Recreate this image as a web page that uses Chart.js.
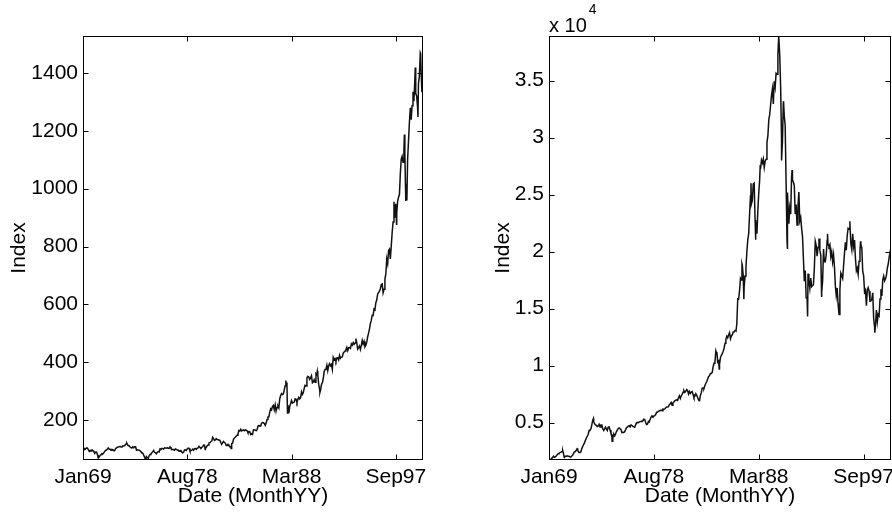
<!DOCTYPE html>
<html><head><meta charset="utf-8">
<script src="https://cdn.jsdelivr.net/npm/chart.js@4.4.1/dist/chart.umd.min.js"></script>
<style>
html,body{margin:0;padding:0;background:#fff;}
#wrap{position:relative;width:892px;height:512px;overflow:hidden;}
.box{position:absolute;top:0;width:446px;height:512px;}
</style></head><body>
<div id="wrap">
<div class="box" style="left:0"><canvas id="c1" width="446" height="512"></canvas></div>
<div class="box" style="left:446px"><canvas id="c2" width="446" height="512"></canvas></div>
</div>
<script>
// ---- axis tick data ----
const xTickDays = [0, 3500, 7000, 10500];
const xTickLabels = ['Jan69', 'Aug78', 'Mar88', 'Sep97'];
const spxTicks = [200, 400, 600, 800, 1000, 1200, 1400];
const spxTickLabels = ['200', '400', '600', '800', '1000', '1200', '1400'];
const nkTicks = [5000, 10000, 15000, 20000, 25000, 30000, 35000];
const nkTickLabels = ['0.5', '1', '1.5', '2', '2.5', '3', '3.5'];

// ---- monthly values: first entry = Dec 1968 close, then each month's close Jan 1969 .. Mar 2000 ----
const spxMonthly = [103.86,
103.01, 98.13, 101.51, 103.69, 103.46, 97.71, 91.83, 95.51, 93.12, 97.24, 93.81, 92.06,
85.02, 89.50, 89.63, 81.52, 76.55, 72.72, 78.05, 81.52, 84.21, 83.25, 87.20, 92.15,
95.88, 96.75, 100.31, 103.95, 99.63, 99.70, 95.58, 99.03, 98.34, 94.23, 93.99, 102.09,
103.94, 106.57, 107.20, 107.67, 109.53, 107.14, 107.39, 111.09, 110.55, 111.58, 116.67, 118.05,
116.03, 111.68, 111.52, 106.97, 104.95, 104.26, 108.22, 104.25, 108.43, 108.29, 95.96, 97.55,
96.57, 96.22, 93.98, 90.31, 87.28, 86.00, 79.31, 72.15, 63.54, 73.90, 69.97, 68.56,
76.98, 81.59, 83.36, 87.30, 91.15, 95.19, 88.75, 86.88, 83.87, 89.04, 91.24, 90.19,
100.86, 99.71, 102.77, 101.64, 100.18, 104.28, 103.44, 102.91, 105.24, 102.90, 102.10, 107.46,
102.03, 99.82, 98.42, 98.44, 96.12, 100.48, 98.85, 96.77, 96.53, 92.34, 94.83, 95.10,
89.25, 87.04, 89.21, 96.83, 97.24, 95.53, 100.68, 103.29, 102.54, 93.15, 94.70, 96.11,
99.93, 96.28, 101.59, 101.76, 99.08, 102.91, 103.81, 109.32, 109.32, 101.82, 106.16, 107.94,
114.16, 113.66, 102.09, 106.29, 111.24, 114.24, 121.67, 122.38, 125.46, 127.47, 140.52, 135.76,
129.55, 131.27, 136.00, 132.81, 132.59, 131.21, 130.92, 122.79, 116.18, 121.89, 126.35, 122.55,
120.40, 113.11, 111.96, 116.44, 111.88, 109.61, 107.09, 119.51, 120.42, 133.71, 138.54, 140.64,
145.30, 148.06, 152.96, 164.42, 162.39, 168.11, 162.56, 164.40, 166.07, 163.55, 166.40, 164.93,
163.41, 157.06, 159.18, 160.05, 150.55, 153.18, 150.66, 166.68, 166.10, 166.09, 163.58, 167.24,
179.63, 181.18, 180.66, 179.83, 189.55, 191.85, 190.92, 188.63, 182.08, 189.82, 202.17, 211.28,
211.78, 226.92, 238.90, 235.52, 247.35, 250.84, 236.12, 252.93, 231.32, 243.98, 249.22, 242.17,
274.08, 284.20, 291.70, 288.36, 290.10, 304.00, 318.66, 329.80, 321.83, 251.79, 230.30, 247.08,
257.07, 267.82, 258.89, 261.33, 262.16, 273.50, 272.02, 261.52, 271.91, 278.97, 273.70, 277.72,
297.47, 288.86, 294.87, 309.64, 320.52, 317.98, 346.08, 351.45, 349.15, 340.36, 345.99, 353.40,
329.08, 331.89, 339.94, 330.80, 361.23, 358.02, 356.15, 322.56, 306.05, 304.00, 322.22, 330.22,
343.93, 367.07, 375.22, 375.35, 389.83, 371.16, 387.81, 395.43, 387.86, 392.46, 375.22, 417.09,
408.79, 412.70, 403.69, 414.95, 415.35, 408.14, 424.21, 414.03, 417.80, 418.68, 431.35, 435.71,
438.78, 443.38, 451.67, 440.19, 450.19, 450.53, 448.13, 463.56, 458.93, 467.83, 461.79, 466.45,
481.61, 467.14, 445.77, 450.91, 456.50, 444.27, 458.26, 475.49, 462.69, 472.35, 453.69, 459.27,
470.42, 487.39, 500.71, 514.71, 533.40, 544.75, 562.06, 561.88, 584.41, 581.50, 605.37, 615.93,
636.02, 640.43, 645.50, 654.17, 669.12, 670.63, 639.95, 651.99, 687.31, 705.27, 757.02, 740.74,
786.16, 790.82, 757.12, 801.34, 848.28, 885.14, 954.29, 899.47, 947.28, 914.62, 955.40, 970.43,
980.28, 1049.34, 1101.75, 1111.75, 1090.82, 1133.84, 1120.67, 957.28, 1017.01, 1098.67, 1163.63, 1229.23,
1279.64, 1238.33, 1286.37, 1335.18, 1301.84, 1372.71, 1328.72, 1320.41, 1282.71, 1362.93, 1388.91, 1469.25,
1394.46, 1366.42, 1498.58];

const nkMonthly = [1714.89,
1750, 1790, 1860, 1930, 2040, 1950, 1980, 2070, 2180, 2260, 2300, 2359,
2400, 2440, 2480, 2280, 1990, 2040, 2050, 2080, 2040, 2040, 1990, 1987,
2060, 2130, 2290, 2430, 2460, 2570, 2720, 2480, 2380, 2390, 2420, 2714,
2900, 3070, 3220, 3440, 3650, 3800, 3950, 4300, 4350, 4450, 4800, 5208,
5100, 4900, 4800, 4750, 4650, 4700, 4850, 4600, 4780, 4780, 4450, 4307,
4450, 4600, 4450, 4300, 4600, 4620, 4350, 4050, 3900, 3650, 4000, 3817,
3990, 4210, 4320, 4480, 4530, 4450, 4370, 4120, 4150, 4130, 4200, 4359,
4560, 4600, 4680, 4720, 4620, 4790, 4740, 4660, 4620, 4590, 4800, 4991,
5000, 4980, 5050, 5080, 5100, 5140, 5160, 5290, 5260, 5010, 4830, 4866,
5100, 5050, 5280, 5480, 5580, 5510, 5560, 5600, 5700, 5900, 5900, 6002,
6020, 6060, 6100, 6040, 6170, 6160, 6200, 6300, 6370, 6370, 6400, 6569,
6650, 6770, 6520, 6740, 6800, 6900, 6960, 7000, 6950, 7170, 7350, 7116,
7350, 7440, 7670, 7810, 7650, 7740, 7900, 7800, 7500, 7730, 7550, 7682,
7720, 7480, 7200, 7320, 7530, 7400, 7200, 7000, 7050, 7380, 7600, 8017,
8030, 8000, 8250, 8430, 8600, 8800, 9040, 9100, 9300, 9300, 9400, 9894,
10200, 10300, 11300, 11050, 10300, 10400, 10100, 10700, 10900, 11050, 11250, 11543,
11950, 12300, 12580, 12430, 12700, 12880, 12350, 12600, 12700, 12950, 12950, 13083,
13030, 13650, 15860, 15830, 16600, 17650, 17500, 18800, 17850, 16910, 17850, 18701,
20050, 21000, 21570, 23270, 24900, 24180, 24490, 25950, 26010, 22770, 22700, 21564,
23620, 25100, 26260, 27250, 28020, 27770, 28120, 27370, 27920, 28100, 29580, 30159,
31580, 31990, 32840, 33710, 34270, 32950, 34950, 34430, 35640, 35550, 37270, 38916,
37190, 34590, 29980, 29590, 33130, 31940, 31040, 25980, 20980, 25190, 22450, 23849,
23290, 26410, 26290, 26110, 25790, 23290, 24120, 22340, 23920, 25220, 22690, 22984,
22020, 21340, 19350, 17390, 18350, 15950, 15910, 18060, 17400, 16770, 17680, 16925,
17020, 17100, 18590, 20920, 20550, 19590, 20380, 21030, 20110, 19700, 16410, 17417,
20230, 19110, 19110, 19720, 20970, 20640, 20450, 20630, 19560, 19990, 19100, 19723,
18650, 17050, 16140, 16810, 15440, 14520, 16680, 18120, 17910, 17650, 18740, 19868,
20810, 20130, 21410, 22040, 21960, 22530, 20690, 20170, 21560, 20470, 21020, 19361,
18330, 18560, 18000, 19150, 20070, 20600, 20330, 18230, 17890, 16460, 16630, 15259,
16630, 16830, 16530, 15640, 15670, 15830, 16380, 14110, 13410, 13560, 14880, 13842,
14500, 14370, 15840, 16700, 16110, 17530, 17860, 17440, 17610, 17940, 18560, 18934,
19540, 19960, 20337];

// ---- notable intra-month highs/lows seen in the picture ----
const spxEventDates = ['1970-05-26','1973-01-11','1974-10-03','1980-03-27','1982-08-12','1987-08-25','1987-10-19','1987-12-04','1990-07-16','1990-10-11','1997-10-27','1998-07-17','1998-10-08','1999-07-16','1999-10-15','2000-01-14','2000-02-25','2000-03-24'];
const spxEventValues = [69.29, 120.24, 62.28, 98.22, 102.42, 336.77, 224.84, 223.92, 368.95, 295.46, 876.99, 1186.75, 959.44, 1418.78, 1247.41, 1465.15, 1333.36, 1527.46];
const nkEventDates = ['1970-04-06','1970-05-27','1971-08-14','1973-01-24','1974-10-09','1982-10-01','1984-05-04','1984-07-23','1986-08-20','1986-10-22','1987-06-17','1987-11-11','1988-04-20','1989-12-29','1990-04-02','1990-06-07','1990-10-01','1991-03-18','1992-08-18','1993-09-03','1993-11-29','1994-06-13','1995-07-03','1996-06-26','1997-06-20','1998-10-09'];
const nkEventValues = [2534, 1930, 2740, 5360, 3355, 6850, 11190, 9700, 18936, 15820, 26000, 21037, 27600, 38916, 28002, 33192, 20222, 27147, 14309, 21148, 16079, 21553, 14485, 22667, 20910, 12880];

// ---- build points ----
const DAY = 86400000;
const T0 = Date.UTC(1969, 0, 2);
function buildPoints(monthly, evDates, evValues) {
  const pts = monthly.map((v, i) => ({ x: (Date.UTC(1969, i, 1) - T0) / DAY, y: v }));
  evDates.forEach((d, k) => {
    const [yy, mm, dd] = d.split('-').map(Number);
    pts.push({ x: (Date.UTC(yy, mm - 1, dd) - T0) / DAY, y: evValues[k] });
  });
  pts.sort((a, b) => a.x - b.x);
  return pts;
}
const spxPts = buildPoints(spxMonthly, spxEventDates, spxEventValues);
const nkPts = buildPoints(nkMonthly, nkEventDates, nkEventValues);
const xMax = (Date.UTC(1969, spxMonthly.length - 1, 1) - T0) / DAY;

const FONT = '"Liberation Sans", Arial, Helvetica, sans-serif';

const framePlugin = {
  id: 'frame',
  afterDatasetsDraw(chart, args, opts) {
    const { ctx, chartArea: a, scales } = chart;
    ctx.save();
    ctx.strokeStyle = '#000';
    ctx.lineWidth = 1;
    const L = Math.round(a.left) + 0.5, R = Math.round(a.right) - 0.5;
    const T = Math.round(a.top) + 0.5, B = Math.round(a.bottom) - 0.5;
    ctx.strokeRect(L, T, R - L, B - T);
    const len = 5;
    ctx.beginPath();
    scales.x.ticks.forEach(t => {
      const px = Math.round(scales.x.getPixelForValue(t.value)) + 0.5;
      ctx.moveTo(px, B); ctx.lineTo(px, B - len);
      ctx.moveTo(px, T); ctx.lineTo(px, T + len);
    });
    scales.y.ticks.forEach(t => {
      const py = Math.round(scales.y.getPixelForValue(t.value)) + 0.5;
      ctx.moveTo(L, py); ctx.lineTo(L + len, py);
      ctx.moveTo(R, py); ctx.lineTo(R - len, py);
    });
    ctx.stroke();
    if (opts && opts.exponent) {
      ctx.fillStyle = '#000';
      ctx.textBaseline = 'alphabetic';
      ctx.textAlign = 'left';
      ctx.font = '20px ' + FONT;
      const base = 'x 10';
      ctx.fillText(base, a.left, a.top - 4);
      const w = ctx.measureText(base).width;
      ctx.font = '14px ' + FONT;
      ctx.fillText(opts.exponent, a.left + w + 2, a.top - 22);
    }
    ctx.restore();
  }
};

function makeChart(id, pts, yMin, yMax, yTicks, yLabels, yAxisWidth, rightPad, titlePad, exponent) {
  return new Chart(document.getElementById(id), {
    type: 'line',
    data: { datasets: [{ data: pts, borderColor: '#111', borderWidth: 1.5, pointRadius: 0, tension: 0, fill: false }] },
    plugins: [framePlugin],
    options: {
      responsive: false,
      animation: false,
      parsing: false,
      events: [],
      layout: { padding: { left: 0, top: 36, right: rightPad, bottom: 0 } },
      plugins: { legend: { display: false }, tooltip: { enabled: false }, frame: { exponent } },
      scales: {
        x: {
          type: 'linear', min: 0, max: xMax,
          grid: { display: false, drawTicks: false },
          border: { display: false },
          afterBuildTicks: s => { s.ticks = xTickDays.map(v => ({ value: v })); },
          afterFit: s => { s.height = 52; s.paddingLeft = 0; s.paddingRight = 0; },
          ticks: {
            autoSkip: false, maxRotation: 0, padding: 5, color: '#000',
            font: { family: FONT, size: 21 },
            callback: v => xTickLabels[xTickDays.indexOf(v)]
          },
          title: { display: true, text: 'Date (MonthYY)', color: '#000', font: { family: FONT, size: 21, lineHeight: 1 }, padding: { top: 0, bottom: 5 } }
        },
        y: {
          type: 'linear', min: yMin, max: yMax,
          grid: { display: false, drawTicks: false },
          border: { display: false },
          afterBuildTicks: s => { s.ticks = yTicks.map(v => ({ value: v })); },
          afterFit: s => { s.width = yAxisWidth; s.paddingTop = 0; s.paddingBottom = 0; },
          ticks: {
            autoSkip: false, padding: 5, color: '#000',
            font: { family: FONT, size: 21 },
            callback: v => yLabels[yTicks.indexOf(v)]
          },
          title: { display: true, text: 'Index', color: '#000', font: { family: FONT, size: 21, lineHeight: 1 }, padding: { top: titlePad, bottom: 0 } }
        }
      }
    }
  });
}

makeChart('c1', spxPts, 62.28, 1527.46, spxTicks, spxTickLabels, 83, 23, 9, null);
makeChart('c2', nkPts, 1714.89, 38916, nkTicks, nkTickLabels, 103, 1, 47, '4');
</script>
</body></html>
